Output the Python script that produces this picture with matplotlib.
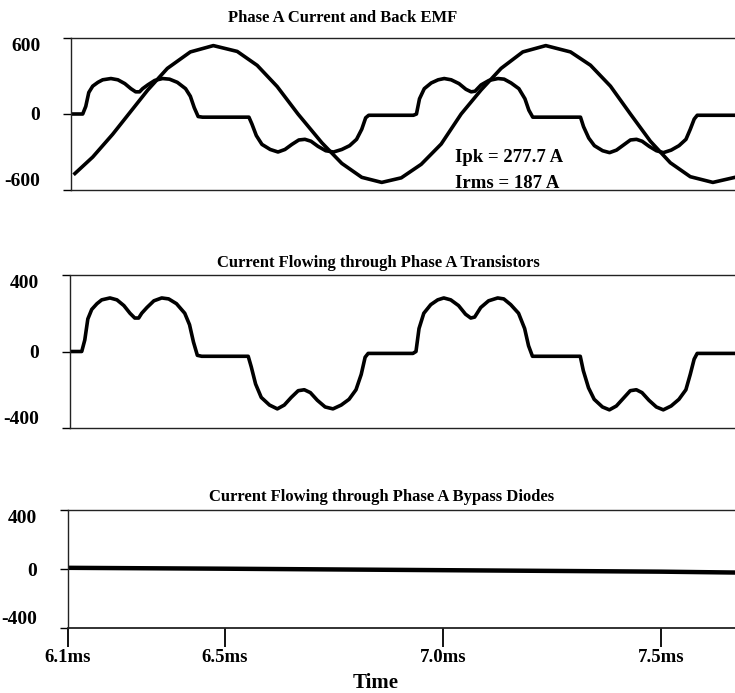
import matplotlib
matplotlib.use("Agg")
import matplotlib.pyplot as plt

# ---------------- data (time in ms) ----------------
current_t = [6.144, 6.167, 6.174, 6.181, 6.190, 6.202, 6.213, 6.232, 6.248, 6.264,
             6.278, 6.289, 6.298, 6.305, 6.317, 6.333, 6.351, 6.367, 6.385, 6.404,
             6.415, 6.424, 6.433, 6.443, 6.550, 6.557, 6.567, 6.580, 6.599, 6.617,
             6.633, 6.649, 6.665, 6.679, 6.693, 6.709, 6.727, 6.745, 6.764, 6.782,
             6.798, 6.810, 6.819, 6.826, 6.929, 6.936, 6.943, 6.954, 6.970, 6.986,
             7.000, 7.016, 7.034, 7.050, 7.062, 7.071, 7.085, 7.103, 7.124, 7.138,
             7.154, 7.172, 7.186, 7.195, 7.204, 7.314, 7.321, 7.333, 7.346, 7.365,
             7.381, 7.397, 7.415, 7.429, 7.443, 7.456, 7.472, 7.489, 7.505, 7.523,
             7.541, 7.557, 7.567, 7.576, 7.583, 7.670]
current_a = [0, 0, 60, 170, 220, 250, 270, 280, 270, 240,
             200, 175, 175, 200, 230, 265, 280, 275, 250, 200,
             140, 50, -20, -25, -25, -80, -170, -240, -280, -300,
             -280, -240, -205, -200, -215, -255, -290, -300, -280, -250,
             -200, -120, -30, -10, -10, 0, 120, 200, 245, 270,
             280, 270, 240, 195, 175, 180, 230, 265, 280, 275,
             245, 200, 120, 30, -25, -25, -100, -190, -250, -290,
             -305, -285, -240, -205, -200, -215, -255, -290, -305, -285,
             -250, -200, -120, -40, -10, -10]

emf_t = [6.149, 6.190, 6.236, 6.273, 6.317, 6.362, 6.415, 6.468, 6.523, 6.569,
         6.615, 6.663, 6.718, 6.764, 6.810, 6.856, 6.901, 6.947, 6.993, 7.039,
         7.085, 7.131, 7.181, 7.234, 7.291, 7.337, 7.383, 7.429, 7.475, 7.521,
         7.567, 7.619, 7.670]
emf_v = [-470, -340, -160, 0, 190, 360, 490, 540, 494, 384,
         217, 0, -227, -390, -500, -540, -504, -397, -237, 0,
         190, 360, 490, 540, 490, 385, 220, 0, -215, -385,
         -495, -540, -500]

transistor_t = current_t
transistor_a = current_a

diode_t = [6.140, 6.5, 7.0, 7.5, 7.670]
diode_a = [8, 2, -8, -18, -24]

x_ticks = [6.14, 6.5, 7.0, 7.5]
x_ticklabels = ["6.1ms", "6.5ms", "7.0ms", "7.5ms"]
titles = ["Phase A Current and Back EMF",
          "Current Flowing through Phase A Transistors",
          "Current Flowing through Phase A Bypass Diodes"]
ipk_text = "Ipk = 277.7 A"
irms_text = "Irms = 187 A"
xlabel = "Time"

# ---------------- figure ----------------
W, H = 735, 693
fig = plt.figure(figsize=(W / 100, H / 100), dpi=100)
FONT = "Liberation Serif"

def box(left, top, bottom):
    return [left / W, 1 - bottom / H, 1 - left / W, (bottom - top) / H]

ax1 = fig.add_axes(box(71, 38, 190))
ax2 = fig.add_axes(box(70, 275, 428))
ax3 = fig.add_axes(box(68, 510, 628))

XLIM = (6.14, 7.67)
LW = 2.6

ax1.plot(emf_t, emf_v, color="black", lw=LW, solid_joinstyle="round")
ax1.plot(current_t, current_a, color="black", lw=LW, solid_joinstyle="round")
ax1.set_ylim(-600, 600)
ax1.set_yticks([600, 0, -600])
ax1.set_yticklabels(["600", "0", "-600"])

ax2.plot(transistor_t, transistor_a, color="black", lw=LW, solid_joinstyle="round")
ax2.set_ylim(-400, 400)
ax2.set_yticks([400, 0, -400])
ax2.set_yticklabels(["400", "0", "-400"])

ax3.plot(diode_t, diode_a, color="black", lw=3.2)
ax3.set_ylim(-400, 400)
ax3.set_yticks([400, 0, -400])
ax3.set_yticklabels(["400", "0", "-400"])

for ax in (ax1, ax2, ax3):
    ax.set_xlim(*XLIM)
    ax.spines["right"].set_visible(False)
    for s in ("left", "top", "bottom"):
        ax.spines[s].set_linestyle((0, (2, 1)))
        ax.spines[s].set_linewidth(1.0)
        ax.spines[s].set_color("#222222")
    ax.tick_params(axis="y", direction="out", length=6, width=1.0, pad=16)
    for lab in ax.get_yticklabels():
        lab.set_fontfamily(FONT)
        lab.set_fontweight("bold")
        lab.set_fontsize(14)
    labs = ax.get_yticklabels()
    labs[0].set_verticalalignment("top")
    labs[-1].set_verticalalignment("bottom")

for ax in (ax1, ax2):
    ax.set_xticks([])

ax3.spines["bottom"].set_linestyle("-")
ax3.spines["bottom"].set_linewidth(1.3)
ax3.set_xticks(x_ticks)
ax3.set_xticklabels(x_ticklabels, fontfamily=FONT, fontweight="bold", fontsize=13.5)
ax3.tick_params(axis="x", direction="out", length=14, width=1.3, pad=1)

# titles and annotations
fig.text(343 / W, 1 - 18 / H, titles[0], ha="center", va="center",
         fontfamily=FONT, fontweight="bold", fontsize=12)
fig.text(378 / W, 1 - 263 / H, titles[1], ha="center", va="center",
         fontfamily=FONT, fontweight="bold", fontsize=12)
fig.text(382 / W, 1 - 497 / H, titles[2], ha="center", va="center",
         fontfamily=FONT, fontweight="bold", fontsize=12)
fig.text(455 / W, 1 - 157 / H, ipk_text, ha="left", va="center",
         fontfamily=FONT, fontweight="bold", fontsize=13.5)
fig.text(455 / W, 1 - 183 / H, irms_text, ha="left", va="center",
         fontfamily=FONT, fontweight="bold", fontsize=13.5)
fig.text(376 / W, 1 - 683 / H, xlabel, ha="center", va="center",
         fontfamily=FONT, fontweight="bold", fontsize=15)

fig.savefig("out.png", dpi=100, facecolor="white")
